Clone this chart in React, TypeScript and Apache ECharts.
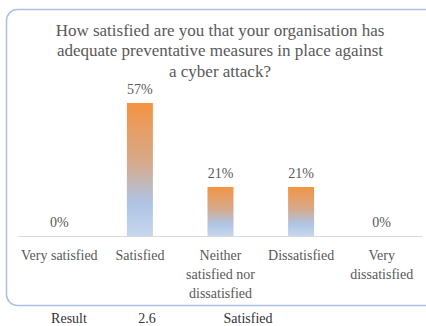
import React, { useEffect, useRef } from "react";
import * as echarts from "echarts";

const categories = ["Very satisfied", "Satisfied", "Neither\nsatisfied nor\ndissatisfied", "Dissatisfied", "Very\ndissatisfied"];
const values = [0, 57, 21, 21, 0];
const titleLines = [
  "How satisfied are you that your organisation has",
  "adequate preventative measures in place against",
  "a cyber attack?",
];
const footer = ["Result", "2.6", "Satisfied"];

const SERIF = "Liberation Serif";

export default function App() {
  const ref = useRef<HTMLDivElement>(null);
  useEffect(() => {
    document.body.style.margin = "0";
    const chart = echarts.init(ref.current!, null, { renderer: "svg" });
    chart.setOption({
      animation: false,
      backgroundColor: "#ffffff",
      textStyle: { fontFamily: SERIF },
      grid: { left: 19, right: 4, top: 96, bottom: 90 },
      xAxis: {
        type: "category",
        data: categories,
        axisLine: { lineStyle: { color: "#d9d9d9", width: 1 } },
        axisTick: { show: false },
        axisLabel: {
          interval: 0,
          fontFamily: SERIF,
          fontSize: 14,
          lineHeight: 19,
          color: "#595959",
          margin: 10,
        },
      },
      yAxis: { type: "value", min: 0, max: 60, show: false, splitLine: { show: false } },
      graphic: [
        {
          type: "rect",
          shape: { x: 6.5, y: 9.5, width: 440, height: 296, r: 11 },
          style: { fill: "none", stroke: "#a9c1e3", lineWidth: 1.5 },
          z: -1,
        },
        ...titleLines.map((t, i) => ({
          type: "text",
          x: 220,
          y: 30 + i * 20.5,
          style: {
            text: t,
            fontFamily: SERIF,
            fontSize: 17,
            fill: "#595959",
            textAlign: "center",
            textVerticalAlign: "middle",
          },
        })),
        ...footer.map((t, i) => ({
          type: "text",
          x: [69, 147, 248][i],
          y: 318,
          style: {
            text: t,
            fontFamily: SERIF,
            fontSize: 14,
            fill: "#333333",
            textAlign: "center",
            textVerticalAlign: "middle",
          },
        })),
      ],
      series: [
        {
          type: "bar",
          data: values,
          barWidth: 26,
          itemStyle: {
            color: new echarts.graphic.LinearGradient(0, 0, 0, 1, [
              { offset: 0, color: "#f39443" },
              { offset: 0.45, color: "#d6aa8c" },
              { offset: 0.75, color: "#aec4e4" },
              { offset: 1, color: "#c6d6ee" },
            ]),
          },
          label: {
            show: true,
            position: "top",
            distance: 7,
            formatter: "{c}%",
            fontFamily: SERIF,
            fontSize: 14,
            color: "#595959",
          },
        },
      ],
    });
    return () => chart.dispose();
  }, []);
  return <div ref={ref} style={{ position: "absolute", left: 0, top: 0, width: 426, height: 326 }} />;
}
